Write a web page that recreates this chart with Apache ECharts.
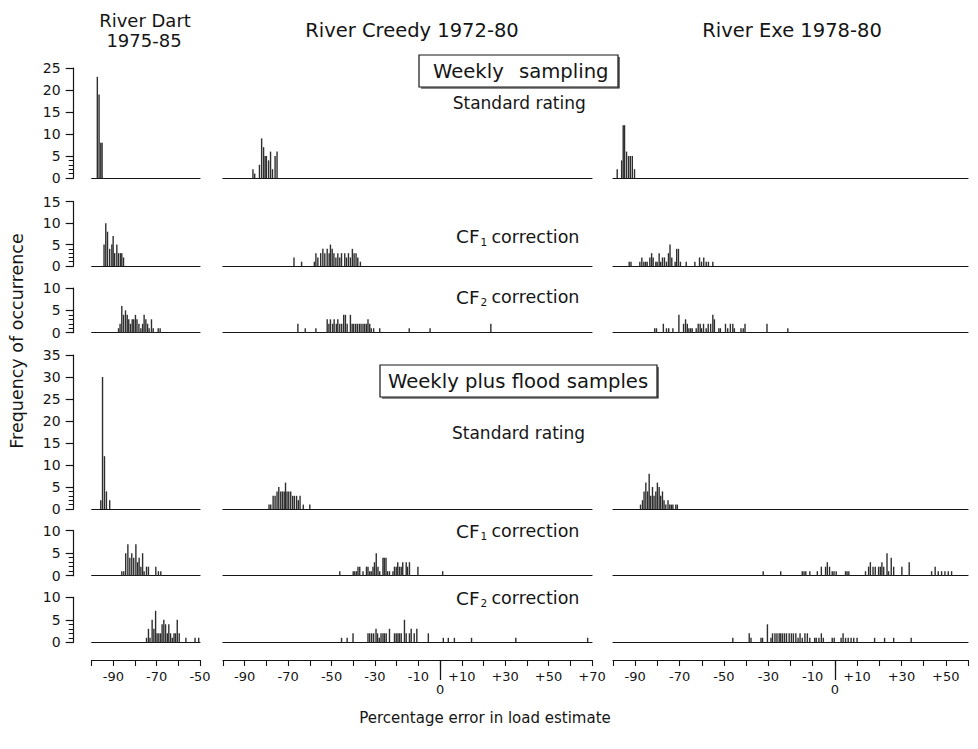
<!DOCTYPE html>
<html>
<head>
<meta charset="utf-8">
<script src="https://cdn.jsdelivr.net/npm/echarts@6/dist/echarts.min.js"></script>
<style>
html,body{margin:0;padding:0;background:#fff;}
#chart{width:978px;height:749px;}
</style>
</head>
<body>
<div id="chart"></div>
<script>
// ---------- DATA: [percentage error (bin), frequency] ----------
// Weekly sampling
const dartW_std   = [[-97.4,23],[-96.6,19],[-95.8,8],[-95.2,8]];
const creedyW_std = [[-86.2,2],[-85.4,1],[-83.2,3],[-82.2,9],[-81.3,7],[-80.6,5],[-80,5],[-79,4],[-78.1,6],[-77.2,2],[-76,5],[-75.1,6]];
const exeW_std    = [[-98.1,2],[-96.1,4],[-95.4,12],[-94.8,12],[-93.9,6],[-93,5],[-92.2,5],[-91.3,5],[-90.3,2]];

const dartW_cf1   = [[-94.3,5],[-93.5,10],[-92.7,8],[-91.7,4],[-90.7,5],[-90.1,7],[-89.4,3],[-88.4,5],[-87.6,3],[-86.7,3],[-86.1,3],[-85.3,2]];
const creedyW_cf1 = [[-67.3,2],[-63.8,1],[-57.9,1],[-57.2,3],[-56.3,2],[-55,3],[-54,4],[-53.1,3],[-52,4],[-51.1,3],[-50.5,5],[-49.7,4],[-48.9,3],[-48,2],[-47.1,3],[-46.2,2],[-45.4,3],[-43.9,3],[-43.1,2],[-42.2,3],[-41.3,2],[-40.4,4],[-39.6,3],[-38.7,3],[-37.9,2],[-36.7,1]];
const exeW_cf1    = [[-92.7,1],[-91.9,1],[-87.9,1],[-87,2],[-86.1,1],[-85.3,1],[-84.6,1],[-83.4,2],[-82.6,3],[-81.9,2],[-80.7,1],[-80.1,1],[-79.2,3],[-78.5,1],[-77.7,2],[-76.8,2],[-75.9,1],[-75,3],[-74.3,5],[-73.5,2],[-72,1],[-71.3,4],[-70.5,4],[-69.6,1],[-67,1],[-63.1,1],[-61,2],[-60.1,1],[-59.1,2],[-58,1],[-57,1],[-55,1]];

const dartW_cf2   = [[-87.6,1],[-86.9,2],[-86.1,6],[-85.3,4],[-84.4,5],[-83.6,4],[-82.9,3],[-82.1,2],[-81.3,3],[-80.6,3],[-79.8,4],[-79.1,3],[-78.2,2],[-77.3,1],[-76.5,2],[-75.8,4],[-75,3],[-74.2,2],[-73.5,1],[-72.4,3],[-71.6,1],[-69.3,1],[-68.4,1]];
const creedyW_cf2 = [[-65.5,2],[-62.1,1],[-57.2,1],[-52,3],[-51.2,2],[-50.5,3],[-49.5,2],[-48.8,3],[-47.8,2],[-47.1,3],[-46.2,2],[-45.3,2],[-44.4,4],[-43.6,4],[-42.8,2],[-41.3,4],[-40.5,2],[-39.8,2],[-38.9,2],[-38.1,2],[-37.2,2],[-36.4,2],[-35.5,2],[-34.7,2],[-33.9,2],[-33.2,3],[-32.4,2],[-31.7,1],[-30.6,1],[-27.8,1],[-14.2,1],[-4.6,1],[23.4,2]];
const exeW_cf2    = [[-81.2,1],[-80.4,1],[-77.3,2],[-75.9,1],[-74.9,1],[-73,1],[-70.3,4],[-68.2,2],[-67.3,3],[-66.5,2],[-65.8,1],[-65,1],[-64.3,1],[-62.5,1],[-61.6,2],[-60.7,2],[-60.1,1],[-59.2,2],[-58,1],[-57.1,2],[-56,2],[-55,4],[-54.3,3],[-52.3,1],[-51.6,1],[-49.3,2],[-48.3,1],[-47.1,2],[-46,2],[-45.3,1],[-42.3,1],[-41.3,1],[-40.5,2],[-30.6,2],[-21.2,1]];

// Weekly plus flood samples
const dartF_std   = [[-95.8,2],[-95,30],[-94.1,12],[-93.2,4],[-91.7,2]];
const creedyF_std = [[-78.8,1],[-78,1],[-76.9,3],[-76,3],[-75.1,4],[-74.3,5],[-73.4,4],[-72.6,4],[-71.8,4],[-71.2,6],[-70.5,4],[-69.7,4],[-68.8,4],[-67.9,3],[-67.1,3],[-66.1,3],[-65.3,2],[-64.5,3],[-63,1],[-60,1]];
const exeF_std    = [[-87.6,1],[-86.7,2],[-86,4],[-85.2,6],[-84.4,4],[-83.7,8],[-83,3],[-82.2,5],[-81.5,3],[-80.7,4],[-80,6],[-79.2,5],[-78.5,3],[-77.7,4],[-77,2],[-76.2,1],[-75.2,2],[-74.4,1],[-73.7,1],[-73,1],[-71.7,1],[-71,1]];

const dartF_cf1   = [[-86.1,1],[-85.2,1],[-84.3,5],[-83.3,7],[-82.4,4],[-81.5,5],[-80.6,4],[-79.6,7],[-78.8,3],[-78.1,4],[-77.3,2],[-76.5,5],[-75.8,1],[-74.7,2],[-73.8,2],[-70.4,2],[-69.2,1],[-68.1,1]];
const creedyF_cf1 = [[-46.2,1],[-40,1],[-39.3,1],[-38.5,1],[-37.8,2],[-37,2],[-35.5,1],[-33.9,2],[-33.2,2],[-32.4,1],[-31.7,1],[-30.9,2],[-30.2,3],[-29.4,5],[-28.6,2],[-27.8,1],[-26.3,4],[-25.7,4],[-24.9,4],[-24.2,1],[-23.3,1],[-21.7,1],[-21,2],[-20.2,2],[-19.5,3],[-18.7,2],[-17.9,2],[-17.2,3],[-15.6,3],[-15,2],[-14.1,3],[-10.2,2],[1.2,1]];
const exeF_cf1    = [[-32.3,1],[-24.4,1],[-14.7,1],[-13.9,1],[-13.1,1],[-11.3,1],[-7.9,1],[-6.1,2],[-4.2,2],[-3.4,3],[-2.4,2],[-1.2,1],[-0.4,1],[0.6,1],[4.8,1],[5.5,1],[6.3,1],[13.8,1],[15.2,2],[16,3],[17.2,2],[18.2,2],[19.7,2],[20.5,2],[21.2,3],[22,2],[23.5,5],[24.2,1],[25.4,4],[26.5,2],[30.2,2],[33.5,3],[43.6,1],[45.2,2],[46.6,1],[48.1,1],[49.6,1],[51.1,1],[52.6,1]];

const dartF_cf2   = [[-74.7,1],[-73.8,3],[-73.1,1],[-72.1,5],[-71.3,3],[-70.5,7],[-69.8,2],[-69,2],[-68.2,2],[-67.5,4],[-66.7,5],[-65.9,4],[-65.1,2],[-64.4,4],[-63.6,2],[-62.8,1],[-62,2],[-61.3,2],[-60.5,5],[-59.6,2],[-56.5,1],[-52.3,1],[-50.6,1]];
const creedyF_cf2 = [[-45.4,1],[-42.8,1],[-40.1,2],[-33.2,2],[-32.4,2],[-31.5,2],[-30.6,2],[-29.5,3],[-28.8,2],[-28,1],[-27.2,2],[-26.3,2],[-25.6,2],[-24.8,2],[-23.3,3],[-21,2],[-20.2,2],[-19.4,2],[-18.7,2],[-17.9,2],[-16.4,5],[-15.6,2],[-14.1,2],[-13.3,3],[-11.9,2],[-10.7,3],[-5.4,2],[1.5,1],[3.8,1],[6.6,1],[14.5,1],[34.9,1],[68,1]];
const exeF_cf2    = [[-46,1],[-38.6,2],[-37.8,1],[-33.3,1],[-32.6,1],[-30.4,4],[-28.8,1],[-28.1,2],[-27,2],[-26.1,2],[-25.1,2],[-24.4,2],[-23.6,2],[-22.7,2],[-21.8,2],[-20.6,2],[-19.6,2],[-18.7,2],[-17.6,2],[-16.6,1],[-15.7,2],[-14.7,1],[-13.5,2],[-12.4,2],[-11.3,1],[-9.1,1],[-8.4,1],[-7.2,1],[-6.1,2],[-5.2,1],[-1.2,1],[-0.3,1],[2.8,1],[3.7,2],[4.8,1],[6,1],[7.3,1],[8.5,1],[10,1],[17.9,1],[22.4,1],[26.5,1],[34.4,1]];

// axis ranges and tick labels
const columnTitles = ['River Dart', 'River Creedy 1972-80', 'River Exe 1978-80'];
const xMinByCol = [-100, -100, -100];
const xMaxByCol = [-50, 70, 60];
const xTickLabelsDart   = [-90, -70, -50];
const xTickLabelsCreedy = [-90, -70, -50, -30, -10, 10, 30, 50, 70];
const xTickLabelsExe    = [-90, -70, -50, -30, -10, 10, 30, 50];
const yMaxByRow = [25, 15, 10, 35, 10, 10];
const yMinorTicks = [1, 2, 3, 4];
const rowLabels = ['Standard rating', 'CF1', 'CF2', 'Standard rating', 'CF1', 'CF2'];

const panels = [
  [dartW_std, creedyW_std, exeW_std],
  [dartW_cf1, creedyW_cf1, exeW_cf1],
  [dartW_cf2, creedyW_cf2, exeW_cf2],
  [dartF_std, creedyF_std, exeF_std],
  [dartF_cf1, creedyF_cf1, exeF_cf1],
  [dartF_cf2, creedyF_cf2, exeF_cf2]
];
const xTickLabels = [xTickLabelsDart, xTickLabelsCreedy, xTickLabelsExe];

// ---------- LAYOUT ----------
const FONT = '"DejaVu Sans", "Liberation Sans", sans-serif';
const INK = '#151515';
const colLayout = [
  {left: 91.7, width: 108.3},
  {left: 223, width: 369},
  {left: 613, width: 355}
];
const rowLayout = [
  {top: 68, bottom: 178},
  {top: 201.7, bottom: 266},
  {top: 288, bottom: 332.7},
  {top: 355, bottom: 509},
  {top: 530.7, bottom: 575.7},
  {top: 597.3, bottom: 642.3}
];
const bottomAxisY = 660;

const grid = [], xAxis = [], yAxis = [], series = [];

for (let r = 0; r < 6; r++) {
  for (let c = 0; c < 3; c++) {
    const gi = grid.length;
    grid.push({
      left: colLayout[c].left, width: colLayout[c].width,
      top: rowLayout[r].top, height: rowLayout[r].bottom - rowLayout[r].top,
      containLabel: false, outerBoundsMode: 'none'
    });
    xAxis.push({
      gridIndex: gi, type: 'value', min: xMinByCol[c], max: xMaxByCol[c], position: 'bottom',
      axisLine: {show: true, onZero: false, lineStyle: {color: INK, width: 1.2}},
      axisTick: {show: false}, axisLabel: {show: false}, splitLine: {show: false}
    });
    const showY = c === 0;
    yAxis.push({
      gridIndex: gi, type: 'value', min: 0, max: yMaxByRow[r], interval: 5, position: 'left',
      show: showY, offset: 18,
      axisLine: {show: showY, lineStyle: {color: INK, width: 1.2}},
      axisTick: {show: showY, length: 8, lineStyle: {color: INK, width: 1.2}},
      axisLabel: {show: showY, margin: 13, fontSize: 14, color: INK, fontFamily: FONT},
      splitLine: {show: false}
    });
    series.push({
      type: 'bar', xAxisIndex: gi, yAxisIndex: gi,
      data: panels[r][c], barWidth: 1.4,
      itemStyle: {color: '#2e2e2e'}, silent: true, animation: false
    });
  }
}
// minor ticks (1-4) on the Dart y axes
for (let r = 0; r < 6; r++) {
  yAxis.push({
    gridIndex: r * 3, type: 'value', min: 0, max: yMaxByRow[r], position: 'left', offset: 18,
    axisLine: {show: false},
    axisTick: {show: true, length: 5, customValues: yMinorTicks, lineStyle: {color: INK, width: 1}},
    axisLabel: {show: false}, splitLine: {show: false}
  });
}
// bottom scale axes
const fmt = v => (v > 0 ? '+' + v : String(v));
for (let c = 0; c < 3; c++) {
  const gi = grid.length;
  grid.push({left: colLayout[c].left, width: colLayout[c].width, top: bottomAxisY - 10, height: 10,
    containLabel: false, outerBoundsMode: 'none'});
  yAxis.push({gridIndex: gi, type: 'value', show: false});
  const labs = xTickLabels[c];
  xAxis.push({
    gridIndex: gi, type: 'value', min: xMinByCol[c], max: xMaxByCol[c], interval: 10, position: 'bottom',
    axisLine: {show: true, onZero: false, lineStyle: {color: INK, width: 1.2}},
    axisTick: {show: true, length: 6, lineStyle: {color: INK, width: 1.1}},
    axisLabel: {show: true, margin: 10, fontSize: 13, color: INK, fontFamily: FONT,
      showMinLabel: true, showMaxLabel: true,
      formatter: v => (labs.indexOf(v) >= 0 ? fmt(v) : '')},
    splitLine: {show: false}
  });
  if (xMaxByCol[c] > 0) {
    xAxis.push({
      gridIndex: gi, type: 'value', min: xMinByCol[c], max: xMaxByCol[c], position: 'bottom',
      axisLine: {show: false},
      axisTick: {show: true, length: 20, customValues: [0], lineStyle: {color: INK, width: 1.3}},
      axisLabel: {show: true, margin: 23, fontSize: 13, color: INK, fontFamily: FONT,
        customValues: [0], formatter: v => String(v)},
      splitLine: {show: false}
    });
  }
}

// ---------- TEXT / ANNOTATIONS ----------
function txt(t, x, y, fs, align, extra) {
  return Object.assign({
    type: 'text', x: x, y: y, silent: true,
    style: {text: t, fontSize: fs, fontFamily: FONT, fill: INK,
      textAlign: align || 'left', textVerticalAlign: 'middle'}
  }, extra || {});
}
function cfLabel(idx, x, y) {
  return [
    txt('CF', x, y, 18.5),
    txt(idx, x + 24.5, y + 5, 10.5),
    txt('correction', x + 35.5, y, 17.5)
  ];
}
function shadowBox(x, y, w, h) {
  return [
    {type: 'rect', silent: true, shape: {x: x, y: y, width: w, height: h},
      style: {fill: 'none', stroke: INK, lineWidth: 1.2}},
    {type: 'polyline', silent: true,
      shape: {points: [[x + 2, y + h + 1], [x + w + 1, y + h + 1], [x + w + 1, y + 2]]},
      style: {fill: 'none', stroke: INK, lineWidth: 1.2}}
  ];
}
const graphics = [
  txt(columnTitles[0], 145, 20.5, 18, 'center'),
  txt('1975-85', 144, 40, 18, 'center'),
  txt(columnTitles[1], 412, 30.5, 19.5, 'center'),
  txt(columnTitles[2], 792, 30.5, 19.5, 'center'),
  ...shadowBox(419, 55, 199, 32),
  txt('Weekly', 433, 71, 19.6),
  txt('sampling', 519, 71, 19.6),
  txt(rowLabels[0], 452.7, 102.5, 17),
  ...cfLabel('1', 456, 236.5),
  ...cfLabel('2', 456, 297),
  ...shadowBox(380, 365, 277, 32),
  txt('Weekly plus flood samples', 388, 381, 19.6),
  txt(rowLabels[3], 452, 432.7, 17),
  ...cfLabel('1', 456, 531),
  ...cfLabel('2', 456, 598),
  txt('Frequency of occurrence', 17, 341, 17.5, 'center', {rotation: Math.PI / 2}),
  txt('Percentage error in load estimate', 485, 718, 15, 'center')
];

const chart = echarts.init(document.getElementById('chart'), null, {renderer: 'svg', width: 978, height: 749});
chart.setOption({
  backgroundColor: '#ffffff',
  animation: false,
  grid: grid,
  xAxis: xAxis,
  yAxis: yAxis,
  series: series,
  graphic: {elements: graphics}
});
</script>
</body>
</html>
